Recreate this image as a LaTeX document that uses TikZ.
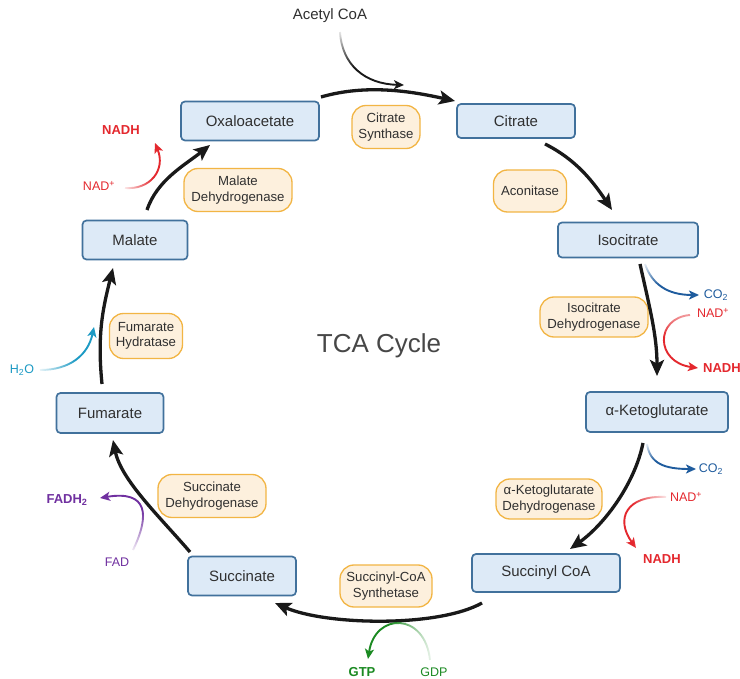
\documentclass[tikz,border=0pt]{standalone}
\usepackage{fontspec}
\setmainfont{Liberation Sans}
\usetikzlibrary{arrows.meta,fadings}
\definecolor{boxfill}{HTML}{DDEAF7}
\definecolor{boxline}{HTML}{41719C}
\definecolor{enzfill}{HTML}{FDF0DD}
\definecolor{enzline}{HTML}{F2B544}
\definecolor{txt}{HTML}{303030}
\definecolor{nadred}{HTML}{E4282E}
\definecolor{coblue}{HTML}{1F5C9E}
\definecolor{gtpgreen}{HTML}{1B8A22}
\definecolor{fadpurple}{HTML}{7030A0}
\definecolor{watercyan}{HTML}{1C9AC4}
\pgfdeclarehorizontalshading{fadeHshade}{100bp}{color(0bp)=(black); color(22bp)=(black); color(58bp)=(white); color(100bp)=(white)}
\pgfdeclarehorizontalshading{fadeSoftshade}{100bp}{color(0bp)=(black); color(8bp)=(black); color(45bp)=(white); color(100bp)=(white)}
\tikzfading[name=fadeleft, shading=fadeHshade, shading angle=0]
\tikzfading[name=faderight, shading=fadeHshade, shading angle=180]
\tikzfading[name=fadetop, shading=fadeHshade, shading angle=-90]
\tikzfading[name=fadetopsoft, shading=fadeSoftshade, shading angle=-90]
\tikzfading[name=fadebottom, shading=fadeHshade, shading angle=90]
\tikzset{
  metab/.style={draw=boxline, fill=boxfill, line width=1.7pt, rounded corners=4pt,
    font=\fontsize{15}{17}\selectfont, text=txt, inner sep=0pt},
  enz/.style={draw=enzline, fill=enzfill, line width=1.3pt, rounded corners=14pt,
    font=\fontsize{13.2}{15.5}\selectfont, text=txt, align=center, inner sep=0pt},
  cyc/.style={line width=3.3pt, draw=black!90, -{Stealth[length=16pt,width=14pt,inset=3.5pt]}},
  side/.style={line width=1.9pt, -{Stealth[length=10pt,width=9pt,inset=2.5pt]}},
  lab/.style={font=\fontsize{12.5}{15}\selectfont, inner sep=0pt},
  blab/.style={font=\fontsize{13}{15}\selectfont\bfseries, inner sep=0pt},
}
\begin{document}
\begin{tikzpicture}[x=1pt,y=-1pt]
\useasboundingbox[fill=white] (0,0) rectangle (740,679);

% metabolites
\node[metab, minimum width=138pt, minimum height=39pt] (oxa) at (250,121) {Oxaloacetate};
\node[metab, minimum width=118pt, minimum height=34pt] (cit) at (516,121) {Citrate};
\node[metab, minimum width=140pt, minimum height=35pt] (iso) at (628,240) {Isocitrate};
\node[metab, minimum width=142pt, minimum height=40pt] (akg) at (657,412) {α-Ketoglutarate};
\node[metab, minimum width=148pt, minimum height=38pt] (sco) at (546,573) {Succinyl CoA};
\node[metab, minimum width=108pt, minimum height=39pt] (sin) at (242,576) {Succinate};
\node[metab, minimum width=107pt, minimum height=40pt] (fum) at (110,413) {Fumarate};
\node[metab, minimum width=105pt, minimum height=39pt] (mal) at (135,240) {Malate};

% enzymes
\node[enz, minimum width=68pt, minimum height=43pt] (cs) at (386,127) {Citrate\\Synthase};
\node[enz, minimum width=73pt, minimum height=42pt] (aco) at (530,191) {Aconitase};
\node[enz, minimum width=108pt, minimum height=40pt] (idh) at (594,317) {Isocitrate\\Dehydrogenase};
\node[enz, minimum width=106pt, minimum height=40pt] (kdh) at (549,499) {α-Ketoglutarate\\Dehydrogenase};
\node[enz, minimum width=92pt, minimum height=42pt] (scs) at (386,586) {Succinyl-CoA\\Synthetase};
\node[enz, minimum width=108pt, minimum height=43pt] (sdh) at (212,496) {Succinate\\Dehydrogenase};
\node[enz, minimum width=73pt, minimum height=45pt] (fh) at (146,336) {Fumarate\\Hydratase};
\node[enz, minimum width=108pt, minimum height=43pt] (mdh) at (238,190) {Malate\\Dehydrogenase};

\node[font=\fontsize{26}{30}\selectfont, text=black!72] (title) at (379,346) {TCA Cycle};

% cycle arrows
\draw[cyc] ([shift={(71,-24)}]oxa.center) .. controls +(45,-13) and +(-45,-10) .. ([shift={(-61,-20)}]cit.center);
\draw[cyc] ([shift={(29,23)}]cit.center) .. controls +(30,15) and +(-20,-30) .. ([shift={(-16,-30)}]iso.center);
\draw[cyc] ([shift={(12,24)}]iso.center) .. controls +(10,45) and +(0,-40) .. ([shift={(0,-36)}]akg.center);
\draw[cyc] ([shift={(-14,31)}]akg.center) .. controls +(-8,40) and +(35,-25) .. ([shift={(24,-24)}]sco.center);
\draw[cyc] ([shift={(-64,30)}]sco.center) .. controls +(-45,25) and +(50,22) .. ([shift={(33,27)}]sin.center);
\draw[cyc] ([shift={(-52,-24)}]sin.center) .. controls +(-30,-35) and +(8,40) .. ([shift={(3,27)}]fum.center);
\draw[cyc] ([shift={(-8,-29)}]fum.center) .. controls +(-5,-50) and +(-10,40) .. ([shift={(-22,28)}]mal.center);
\draw[cyc] ([shift={(12,-30)}]mal.center) .. controls +(10,-30) and +(-25,20) .. ([shift={(-40,24)}]oxa.center);

% side labels
\node[lab, font=\fontsize{15}{17}\selectfont, text=txt] (acoa) at (330,16) {Acetyl CoA};
\coordinate (acin) at (404,85);
\node[blab, text=nadred] (nadh1) at (121,130) {NADH};
\node[lab, text=nadred] (nad1) at (99,186) {NAD\textsuperscript{+}};
\node[lab, text=coblue] (co2a) at (716,295) {CO\textsubscript{2}};
\node[lab, text=nadred] (nad2) at (713,313) {NAD\textsuperscript{+}};
\node[blab, text=nadred, anchor=west] (nadh2) at (703,368) {NADH};
\node[lab, text=coblue] (co2b) at (711,469) {CO\textsubscript{2}};
\node[lab, text=nadred] (nad3) at (686,497) {NAD\textsuperscript{+}};
\node[blab, text=nadred] (nadh3) at (662,559) {NADH};
\node[blab, text=gtpgreen] (gtp) at (362,672) {GTP};
\node[lab, text=gtpgreen] (gdp) at (434,672) {GDP};
\node[blab, text=fadpurple] (fadh) at (67,500) {FADH\textsubscript{2}};
\node[lab, text=fadpurple] (fad) at (117,562) {FAD};
\node[lab, text=watercyan] (h2o) at (22,370) {H\textsubscript{2}O};
\coordinate (co2asrc) at (645,264);
\coordinate (co2bsrc) at (647,444);
\coordinate (h2oin) at (94,327);

% side arrows
\draw[side, draw=black!90, path fading=fadetop] ([shift={(10,16)}]acoa.center) .. controls +(2,33) and +(-39,-1) .. (acin);
\draw[side, draw=nadred, path fading=fadeleft] ([shift={(26,2)}]nad1.center) .. controls +(25,2) and +(11,27) .. ([shift={(34,13)}]nadh1.center);
\draw[side, draw=coblue, path fading=fadetop] (co2asrc) .. controls +(7,20) and +(-32,0) .. ([shift={(-17,0)}]co2a.center);
\draw[side, draw=nadred, path fading=fadetopsoft] ([shift={(-23,2)}]nad2.center) .. controls +(-35,3) and +(-43,-6) .. ([shift={(-5,0)}]nadh2.west);
\draw[side, draw=coblue, path fading=fadetop] (co2bsrc) .. controls +(3,20) and +(-31,0) .. ([shift={(-15,0)}]co2b.center);
\draw[side, draw=nadred, path fading=faderight] ([shift={(-20,0)}]nad3.center) .. controls +(-40,-2) and +(-21,-29) .. ([shift={(-26,-11)}]nadh3.center);
\draw[side, draw=gtpgreen, path fading=faderight] ([shift={(-4,-12)}]gdp.center) .. controls +(-5,-48) and +(7,-47) .. ([shift={(6,-13)}]gtp.center);
\draw[side, draw=fadpurple, path fading=fadebottom] ([shift={(16,-12)}]fad.center) .. controls +(17,-35) and +(48,-8) .. ([shift={(33,-2)}]fadh.center);
\draw[side, draw=watercyan, path fading=fadeleft] ([shift={(18,0)}]h2o.center) .. controls +(30,0) and +(-6,28) .. (h2oin);
\end{tikzpicture}
\end{document}
